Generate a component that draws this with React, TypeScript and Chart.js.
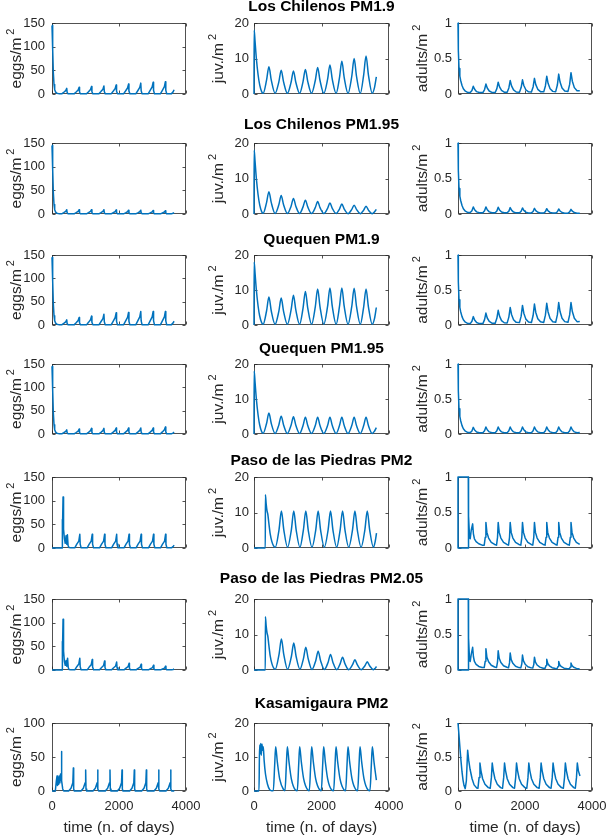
import React, { useEffect, useRef } from 'react';
import { Chart, registerables } from 'chart.js';
Chart.register(...registerables);

type Pt = [number, number];

// ---------- Row 1: Los Chilenos PM1.9 ----------
const lc19Eggs: Pt[] = [[0,145],[20,95],[40,45],[60,20],[80,9],[110,4],[150,1.5],[220,0.3],
[290,0.3],[350,3.6],[410,7.2],[440,12],[452,3.6],[480,0.3],
[660,0.3],[720,4.2],[780,8.4],[810,14],[822,4.2],[850,0.3],
[1030,0.3],[1090,4.8],[1150,9.6],[1180,16],[1192,4.8],[1220,0.3],
[1400,0.3],[1460,5.1],[1520,10.2],[1550,17],[1562,5.1],[1590,0.3],
[1765,0.3],[1825,5.7],[1885,11.4],[1915,19],[1927,5.7],[1955,0.3],
[2135,0.3],[2195,6.3],[2255,12.6],[2285,21],[2297,6.3],[2325,0.3],
[2500,0.3],[2560,6.9],[2620,13.8],[2650,23],[2662,6.9],[2690,0.3],
[2870,0.3],[2930,7.5],[2990,15],[3020,25],[3032,7.5],[3060,0.3],
[3235,0.3],[3295,7.8],[3355,15.6],[3385,26],[3397,7.8],[3425,0.3],
[3560,0.3],[3610,4],[3645,9]];
const lc19Juv: Pt[] = [[0,0],[5,18],[30,15],[70,10],[120,5.5],[170,2.5],[230,0.6],[270,0.2],
[372,3.9],[442,7.7],[512,3.9],[625,0.2],
[736,3.4],[806,6.7],[876,3.4],[989,0.2],
[1099,3.3],[1169,6.5],[1239,3.3],[1352,0.2],
[1453,3.5],[1523,6.9],[1593,3.5],[1706,0.2],
[1816,3.8],[1886,7.5],[1956,3.8],[2069,0.2],
[2180,4.1],[2250,8.2],[2320,4.1],[2433,0.2],
[2533,4.6],[2603,9.2],[2673,4.6],[2786,0.2],
[2897,5],[2967,10],[3037,5],[3150,0.2],
[3250,5.4],[3320,10.7],[3390,5.4],[3503,0.2],
[3570,1.8],[3625,4.8]];
const lc19Adults: Pt[] = [[0,1],[10,0.62],[30,0.36],[55,0.25],[80,0.19],[120,0.12],[160,0.075],[220,0.04],[300,0.02],
[366,0.02],[416,0.05],[456,0.11],[496,0.066],[556,0.033],[636,0.02],
[743,0.02],[793,0.063],[833,0.14],[873,0.084],[933,0.042],[1013,0.022],
[1110,0.022],[1160,0.075],[1200,0.166],[1240,0.1],[1300,0.05],[1380,0.025],
[1468,0.024],[1518,0.085],[1558,0.19],[1598,0.114],[1658,0.057],[1738,0.028],
[1835,0.025],[1885,0.09],[1925,0.2],[1965,0.12],[2025,0.06],[2105,0.03],
[2192,0.027],[2242,0.1],[2282,0.22],[2322,0.132],[2382,0.066],[2462,0.033],
[2559,0.03],[2609,0.113],[2649,0.25],[2689,0.15],[2749,0.075],[2829,0.037],
[2916,0.033],[2966,0.126],[3006,0.28],[3046,0.168],[3106,0.084],[3186,0.042],
[3283,0.036],[3333,0.135],[3373,0.3],[3413,0.18],[3473,0.09],[3553,0.045],
[3635,0.045]];

// ---------- Row 2: Los Chilenos PM1.95 ----------
const lc195Eggs: Pt[] = [[0,145],[20,95],[40,45],[60,20],[80,9],[110,4],[150,1.5],[220,0.3],
[290,0.3],[350,2.7],[410,5.4],[440,9],[452,2.7],[480,0.3],
[660,0.3],[720,2.7],[780,5.4],[810,9],[822,2.7],[850,0.3],
[1030,0.3],[1090,2.7],[1150,5.4],[1180,9],[1192,2.7],[1220,0.3],
[1400,0.3],[1460,2.7],[1520,5.4],[1550,9],[1562,2.7],[1590,0.3],
[1765,0.3],[1825,2.6],[1885,5.1],[1915,8.5],[1927,2.6],[1955,0.3],
[2135,0.3],[2195,2.4],[2255,4.8],[2285,8],[2297,2.4],[2325,0.3],
[2500,0.3],[2560,2.4],[2620,4.8],[2650,8],[2662,2.4],[2690,0.3],
[2870,0.3],[2930,2.3],[2990,4.5],[3020,7.5],[3032,2.3],[3060,0.3],
[3235,0.3],[3295,2.1],[3355,4.2],[3385,7],[3397,2.1],[3425,0.3],
[3560,0.3],[3610,1.5],[3645,2.8]];
const lc195Juv: Pt[] = [[0,0],[5,18],[30,15],[70,10],[120,5.5],[170,2.5],[230,0.6],[270,0.2],
[372,3.2],[442,6.3],[512,3.2],[625,0.15],
[736,2.6],[806,5.2],[876,2.6],[989,0.15],
[1099,2.2],[1169,4.4],[1239,2.2],[1352,0.15],
[1453,2],[1523,3.9],[1593,2],[1706,0.15],
[1816,1.8],[1886,3.5],[1956,1.8],[2069,0.15],
[2180,1.6],[2250,3.1],[2320,1.6],[2433,0.15],
[2533,1.4],[2603,2.8],[2673,1.4],[2786,0.1],
[2897,1.3],[2967,2.5],[3037,1.3],[3150,0.1],
[3250,1.1],[3320,2.2],[3390,1.1],[3503,0.1],
[3570,0.6],[3625,1.3]];
const lc195Adults: Pt[] = [[0,1],[10,0.62],[30,0.36],[55,0.25],[80,0.19],[120,0.12],[160,0.075],[220,0.04],[300,0.02],
[366,0.02],[416,0.045],[456,0.1],[496,0.06],[556,0.03],[636,0.018],
[743,0.018],[793,0.045],[833,0.1],[873,0.06],[933,0.03],[1013,0.018],
[1110,0.018],[1160,0.043],[1200,0.095],[1240,0.057],[1300,0.029],[1380,0.017],
[1468,0.017],[1518,0.04],[1558,0.09],[1598,0.054],[1658,0.027],[1738,0.016],
[1835,0.016],[1885,0.038],[1925,0.085],[1965,0.051],[2025,0.026],[2105,0.015],
[2192,0.015],[2242,0.036],[2282,0.08],[2322,0.048],[2382,0.024],[2462,0.014],
[2559,0.014],[2609,0.034],[2649,0.075],[2689,0.045],[2749,0.023],[2829,0.013],
[2916,0.013],[2966,0.032],[3006,0.07],[3046,0.042],[3106,0.021],[3186,0.012],
[3283,0.012],[3333,0.029],[3373,0.065],[3413,0.039],[3473,0.02],[3553,0.012],
[3635,0.012]];

// ---------- Row 3: Quequen PM1.9 ----------
const q19Eggs: Pt[] = [[0,145],[20,95],[40,45],[60,20],[80,9],[110,4],[150,1.5],[220,0.3],
[290,0.3],[350,3.3],[410,6.6],[440,11],[452,3.3],[480,0.3],
[660,0.3],[720,4.8],[780,9.6],[810,16],[822,4.8],[850,0.3],
[1030,0.3],[1090,5.7],[1150,11.4],[1180,19],[1192,5.7],[1220,0.3],
[1400,0.3],[1460,6.9],[1520,13.8],[1550,23],[1562,6.9],[1590,0.3],
[1765,0.3],[1825,7.8],[1885,15.6],[1915,26],[1927,7.8],[1955,0.3],
[2135,0.3],[2195,8.1],[2255,16.2],[2285,27],[2297,8.1],[2325,0.3],
[2500,0.3],[2560,8.7],[2620,17.4],[2650,29],[2662,8.7],[2690,0.3],
[2870,0.3],[2930,8.7],[2990,17.4],[3020,29],[3032,8.7],[3060,0.3],
[3235,0.3],[3295,8.7],[3355,17.4],[3385,29],[3397,8.7],[3425,0.3],
[3560,0.3],[3610,4],[3645,8]];
const q19Juv: Pt[] = [[0,0],[5,18],[30,15],[70,10],[120,5.5],[170,2.5],[230,0.6],[270,0.2],
[372,4],[442,8],[512,4],[625,0.2],
[736,3.9],[806,7.7],[876,3.9],[989,0.2],
[1099,4.3],[1169,8.5],[1239,4.3],[1352,0.2],
[1453,4.8],[1523,9.6],[1593,4.8],[1706,0.2],
[1816,5.2],[1886,10.3],[1956,5.2],[2069,0.2],
[2180,5.3],[2250,10.6],[2320,5.3],[2433,0.2],
[2533,5.3],[2603,10.6],[2673,5.3],[2786,0.2],
[2897,5.3],[2967,10.5],[3037,5.3],[3150,0.2],
[3250,5.2],[3320,10.3],[3390,5.2],[3503,0.2],
[3570,1.8],[3625,5]];
const q19Adults: Pt[] = [[0,1],[10,0.62],[30,0.36],[55,0.25],[80,0.19],[120,0.12],[160,0.075],[220,0.04],[300,0.02],
[366,0.02],[416,0.054],[456,0.12],[496,0.072],[556,0.036],[636,0.02],
[743,0.02],[793,0.077],[833,0.17],[873,0.1],[933,0.051],[1013,0.026],
[1110,0.025],[1160,0.095],[1200,0.21],[1240,0.126],[1300,0.063],[1380,0.032],
[1468,0.03],[1518,0.113],[1558,0.25],[1598,0.15],[1658,0.075],[1738,0.038],
[1835,0.034],[1885,0.126],[1925,0.28],[1965,0.168],[2025,0.084],[2105,0.042],
[2192,0.036],[2242,0.135],[2282,0.3],[2322,0.18],[2382,0.09],[2462,0.045],
[2559,0.037],[2609,0.14],[2649,0.31],[2689,0.186],[2749,0.093],[2829,0.047],
[2916,0.038],[2966,0.144],[3006,0.32],[3046,0.192],[3106,0.096],[3186,0.048],
[3283,0.038],[3333,0.144],[3373,0.32],[3413,0.192],[3473,0.096],[3553,0.048],
[3635,0.05]];

// ---------- Row 4: Quequen PM1.95 ----------
const q195Eggs: Pt[] = [[0,145],[20,95],[40,45],[60,20],[80,9],[110,4],[150,1.5],[220,0.3],
[290,0.3],[350,2.7],[410,5.4],[440,9],[452,2.7],[480,0.3],
[660,0.3],[720,3.2],[780,6.3],[810,10.5],[822,3.2],[850,0.3],
[1030,0.3],[1090,3.6],[1150,7.2],[1180,12],[1192,3.6],[1220,0.3],
[1400,0.3],[1460,3.6],[1520,7.2],[1550,12],[1562,3.6],[1590,0.3],
[1765,0.3],[1825,3.9],[1885,7.8],[1915,13],[1927,3.9],[1955,0.3],
[2135,0.3],[2195,3.9],[2255,7.8],[2285,13],[2297,3.9],[2325,0.3],
[2500,0.3],[2560,3.9],[2620,7.8],[2650,13],[2662,3.9],[2690,0.3],
[2870,0.3],[2930,3.9],[2990,7.8],[3020,13],[3032,3.9],[3060,0.3],
[3235,0.3],[3295,4.5],[3355,9],[3385,15],[3397,4.5],[3425,0.3],
[3560,0.3],[3610,2],[3645,4]];
const q195Juv: Pt[] = [[0,0],[5,18],[30,15],[70,10],[120,5.5],[170,2.5],[230,0.6],[270,0.2],
[372,3],[442,6],[512,3],[625,0.15],
[736,2.6],[806,5.1],[876,2.6],[989,0.15],
[1099,2.5],[1169,4.9],[1239,2.5],[1352,0.15],
[1453,2.4],[1523,4.8],[1593,2.4],[1706,0.15],
[1816,2.4],[1886,4.8],[1956,2.4],[2069,0.15],
[2180,2.4],[2250,4.8],[2320,2.4],[2433,0.15],
[2533,2.4],[2603,4.8],[2673,2.4],[2786,0.15],
[2897,2.4],[2967,4.8],[3037,2.4],[3150,0.15],
[3250,2.4],[3320,4.8],[3390,2.4],[3503,0.15],
[3570,0.8],[3625,1.8]];
const q195Adults: Pt[] = [[0,1],[10,0.62],[30,0.36],[55,0.25],[80,0.19],[120,0.12],[160,0.075],[220,0.04],[300,0.02],
[366,0.02],[416,0.043],[456,0.095],[496,0.057],[556,0.029],[636,0.017],
[743,0.017],[793,0.045],[833,0.1],[873,0.06],[933,0.03],[1013,0.018],
[1110,0.018],[1160,0.045],[1200,0.1],[1240,0.06],[1300,0.03],[1380,0.018],
[1468,0.018],[1518,0.045],[1558,0.1],[1598,0.06],[1658,0.03],[1738,0.018],
[1835,0.018],[1885,0.045],[1925,0.1],[1965,0.06],[2025,0.03],[2105,0.018],
[2192,0.018],[2242,0.045],[2282,0.1],[2322,0.06],[2382,0.03],[2462,0.018],
[2559,0.018],[2609,0.045],[2649,0.1],[2689,0.06],[2749,0.03],[2829,0.018],
[2916,0.018],[2966,0.045],[3006,0.1],[3046,0.06],[3106,0.03],[3186,0.018],
[3283,0.018],[3333,0.045],[3373,0.1],[3413,0.06],[3473,0.03],[3553,0.018],
[3635,0.02]];

// ---------- Row 5: Paso de las Piedras PM2 ----------
const pd2Eggs: Pt[] = [[0,0],[300,0],[305,60],[315,30],[330,108],[345,40],[370,20],[395,10],[420,26],[440,8],[460,28],[480,5],[510,1],[560,0.3],
[680,0.3],[740,8],[800,14.5],[830,29],[842,8],[870,0.3],
[1050,0.3],[1110,8],[1170,14.5],[1200,29],[1212,8],[1240,0.3],
[1420,0.3],[1480,8],[1540,14.5],[1570,29],[1582,8],[1610,0.3],
[1780,0.3],[1840,8],[1900,14.5],[1930,29],[1942,8],[1970,0.3],
[2150,0.3],[2210,8],[2270,14.5],[2300,29],[2312,8],[2340,0.3],
[2510,0.3],[2570,8],[2630,14.5],[2660,29],[2672,8],[2700,0.3],
[2880,0.3],[2940,8],[3000,14.5],[3030,29],[3042,8],[3070,0.3],
[3240,0.3],[3300,8],[3360,14.5],[3390,29],[3402,8],[3430,0.3],
[3565,0.3],[3615,3],[3645,6]];
const pd2Juv: Pt[] = [[0,0],[335,0],[338,15],[360,12.5],[385,10.5],[410,9.5],[440,7],[480,4],[530,1.8],[580,0.6],[630,0.2],
[742,5.2],[812,10.4],[882,5.2],[995,0.2],
[1108,5.2],[1178,10.4],[1248,5.2],[1361,0.2],
[1465,5.2],[1535,10.4],[1605,5.2],[1718,0.2],
[1831,5.2],[1901,10.4],[1971,5.2],[2084,0.2],
[2197,5.2],[2267,10.4],[2337,5.2],[2450,0.2],
[2554,5.2],[2624,10.4],[2694,5.2],[2807,0.2],
[2920,5.2],[2990,10.4],[3060,5.2],[3173,0.2],
[3286,5.2],[3356,10.4],[3426,5.2],[3539,0.2],
[3590,1.8],[3630,4.2]];
const pd2Adults: Pt[] = [[307,0],[0,0],[0,1],[307,1],[307,0],[312,1],[325,0.45],[345,0.15],[365,0.13],[395,0.25],[437,0.34],[460,0.2],[490,0.13],[540,0.09],[620,0.06],[720,0.04],
[783,0.04],[813,0.15],[833,0.36],[863,0.22],[913,0.14],[993,0.08],[1093,0.05],
[1150,0.04],[1180,0.15],[1200,0.36],[1230,0.22],[1280,0.14],[1360,0.08],[1460,0.05],
[1508,0.04],[1538,0.15],[1558,0.36],[1588,0.22],[1638,0.14],[1718,0.08],[1818,0.05],
[1875,0.04],[1905,0.15],[1925,0.36],[1955,0.22],[2005,0.14],[2085,0.08],[2185,0.05],
[2232,0.04],[2262,0.15],[2282,0.36],[2312,0.22],[2362,0.14],[2442,0.08],[2542,0.05],
[2599,0.04],[2629,0.15],[2649,0.36],[2679,0.22],[2729,0.14],[2809,0.08],[2909,0.05],
[2956,0.04],[2986,0.15],[3006,0.36],[3036,0.22],[3086,0.14],[3166,0.08],[3266,0.05],
[3323,0.04],[3353,0.15],[3373,0.36],[3403,0.22],[3453,0.14],[3533,0.08],[3633,0.05]];

// ---------- Row 6: Paso de las Piedras PM2.05 ----------
const pd205Eggs: Pt[] = [[0,0],[300,0],[305,60],[315,30],[330,107],[345,40],[370,18],[395,10],[420,20],[440,8],[465,25],[485,5],[510,1],[560,0.3],
[680,0.3],[740,7],[800,12.5],[830,25],[842,7],[870,0.3],
[1050,0.3],[1110,6.2],[1170,11],[1200,22],[1212,6.2],[1240,0.3],
[1420,0.3],[1480,5.3],[1540,9.5],[1570,19],[1582,5.3],[1610,0.3],
[1780,0.3],[1840,4.8],[1900,8.5],[1930,17],[1942,4.8],[1970,0.3],
[2150,0.3],[2210,3.9],[2270,7],[2300,14],[2312,3.9],[2340,0.3],
[2510,0.3],[2570,3.4],[2630,6],[2660,12],[2672,3.4],[2700,0.3],
[2880,0.3],[2940,2.8],[3000,5],[3030,10],[3042,2.8],[3070,0.3],
[3240,0.3],[3300,2.2],[3360,4],[3390,8],[3402,2.2],[3430,0.3],
[3565,0.3],[3615,1.2],[3645,2]];
const pd205Juv: Pt[] = [[0,0],[335,0],[338,15],[360,12.5],[385,10.5],[410,9.5],[440,7],[480,4],[530,1.8],[580,0.6],[630,0.2],
[742,4.4],[812,8.7],[882,4.4],[995,0.2],
[1108,3.8],[1178,7.6],[1248,3.8],[1361,0.2],
[1465,3.2],[1535,6.4],[1605,3.2],[1718,0.15],
[1831,2.7],[1901,5.3],[1971,2.7],[2084,0.15],
[2197,2.2],[2267,4.4],[2337,2.2],[2450,0.1],
[2554,1.8],[2624,3.6],[2694,1.8],[2807,0.1],
[2920,1.5],[2990,2.9],[3060,1.5],[3173,0.1],
[3286,1.2],[3356,2.3],[3426,1.2],[3539,0.1],
[3590,0.5],[3630,1]];
const pd205Adults: Pt[] = [[307,0],[0,0],[0,1],[307,1],[307,0],[312,1],[325,0.45],[345,0.14],[365,0.12],[395,0.22],[437,0.32],[460,0.19],[490,0.12],[540,0.08],[620,0.05],[720,0.035],
[783,0.035],[813,0.125],[833,0.3],[863,0.18],[913,0.117],[993,0.067],[1093,0.042],
[1150,0.035],[1180,0.113],[1200,0.27],[1230,0.165],[1280,0.105],[1360,0.06],[1460,0.038],
[1508,0.032],[1538,0.1],[1558,0.24],[1588,0.146],[1638,0.094],[1718,0.053],[1818,0.034],
[1875,0.03],[1905,0.088],[1925,0.21],[1955,0.128],[2005,0.082],[2085,0.046],[2185,0.03],
[2232,0.027],[2262,0.076],[2282,0.18],[2312,0.11],[2362,0.07],[2442,0.04],[2542,0.025],
[2599,0.023],[2629,0.063],[2649,0.15],[2679,0.092],[2729,0.059],[2809,0.033],[2909,0.021],
[2956,0.019],[2986,0.05],[3006,0.12],[3036,0.073],[3086,0.047],[3166,0.026],[3266,0.017],
[3323,0.016],[3353,0.042],[3373,0.1],[3403,0.061],[3453,0.039],[3533,0.022],[3633,0.015]];

// ---------- Row 7: Kasamigaura PM2 ----------
const kEggs: Pt[] = [[0,0],[100,0],[130,15],[150,22],[165,8],[185,20],[200,10],[215,22],[235,12],[255,25],[270,20],[280,58],[295,15],[320,3],[350,0],
[497,0],[567,4],[622,12],[637,34],[647,3],[667,0],
[865,0],[935,4],[990,12],[1005,31],[1015,3],[1035,0],
[1223,0],[1293,4],[1348,12],[1363,31],[1373,3],[1393,0],
[1591,0],[1661,4],[1716,12],[1731,31],[1741,3],[1761,0],
[1950,0],[2020,4],[2075,12],[2090,31],[2100,3],[2120,0],
[2317,0],[2387,4],[2442,12],[2457,31],[2467,3],[2487,0],
[2676,0],[2746,4],[2801,12],[2816,31],[2826,3],[2846,0],
[3044,0],[3114,4],[3169,12],[3184,31],[3194,3],[3214,0],
[3402,0],[3472,4],[3527,12],[3542,31],[3552,3],[3572,0],
[3650,0]];
const kJuv: Pt[] = [[0,0],[148,0],[160,10],[170,13.5],[185,11],[200,14],[215,10.5],[235,13.8],[255,12],[275,13],[300,9],[340,5],[400,2],[460,0.5],[520,0.1],
[572,0.1],[612,7.5],[642,13],[692,8.5],[762,3.5],[882,0.3],
[918,0.1],[958,7.5],[988,13],[1038,8.5],[1108,3.5],[1228,0.3],
[1283,0.1],[1323,7.5],[1353,13],[1403,8.5],[1473,3.5],[1593,0.3],
[1639,0.1],[1679,7.5],[1709,13],[1759,8.5],[1829,3.5],[1949,0.3],
[1994,0.1],[2034,7.5],[2064,13],[2114,8.5],[2184,3.5],[2304,0.3],
[2360,0.1],[2400,7.5],[2430,13],[2480,8.5],[2550,3.5],[2670,0.3],
[2715,0.1],[2755,7.5],[2785,13],[2835,8.5],[2905,3.5],[3025,0.3],
[3071,0.1],[3111,7.5],[3141,13],[3191,8.5],[3261,3.5],[3381,0.3],
[3436,0.1],[3476,7.5],[3506,13],[3556,8.5],[3626,3.2]];
const kAdults: Pt[] = [[0,1],[30,0.82],[60,0.62],[90,0.44],[120,0.28],[150,0.16],[180,0.08],[215,0.035],[250,0.15],[288,0.6],[320,0.45],[360,0.32],[420,0.18],[480,0.09],[560,0.045],
[595,0.04],[630,0.2],[655,0.41],[685,0.3],[735,0.18],[805,0.1],[905,0.05],
[962,0.04],[997,0.2],[1022,0.41],[1052,0.3],[1102,0.18],[1172,0.1],[1272,0.05],
[1329,0.04],[1364,0.2],[1389,0.41],[1419,0.3],[1469,0.18],[1539,0.1],[1639,0.05],
[1687,0.04],[1722,0.2],[1747,0.41],[1777,0.3],[1827,0.18],[1897,0.1],[1997,0.05],
[2054,0.04],[2089,0.2],[2114,0.41],[2144,0.3],[2194,0.18],[2264,0.1],[2364,0.05],
[2421,0.04],[2456,0.2],[2481,0.41],[2511,0.3],[2561,0.18],[2631,0.1],[2731,0.05],
[2778,0.04],[2813,0.2],[2838,0.41],[2868,0.3],[2918,0.18],[2988,0.1],[3088,0.05],
[3145,0.04],[3180,0.2],[3205,0.41],[3235,0.3],[3285,0.18],[3355,0.1],[3455,0.05],
[3502,0.04],[3537,0.2],[3562,0.41],[3592,0.3],[3641,0.22]];

// ---------- labels & ticks ----------
const rowTitles = ['Los Chilenos PM1.9', 'Los Chilenos PM1.95', 'Quequen PM1.9', 'Quequen PM1.95',
  'Paso de las Piedras PM2', 'Paso de las Piedras PM2.05', 'Kasamigaura PM2'];
const yLabels = ['eggs/m', 'juv./m', 'adults/m'];
const ySup = '2';
const xTitle = 'time (n. of days)';
const xTickValues = [0, 2000, 4000];
const eggTicks = [0, 50, 100, 150];
const eggTicksKasamigaura = [0, 50, 100];
const juvTicks = [0, 10, 20];
const adultTicks = [0, 0.5, 1];

const panels: Pt[][][] = [
  [lc19Eggs, lc19Juv, lc19Adults],
  [lc195Eggs, lc195Juv, lc195Adults],
  [q19Eggs, q19Juv, q19Adults],
  [q195Eggs, q195Juv, q195Adults],
  [pd2Eggs, pd2Juv, pd2Adults],
  [pd205Eggs, pd205Juv, pd205Adults],
  [kEggs, kJuv, kAdults],
];

// ---------- layout ----------
const colLeft = [52, 254, 458];
const colRight = [186, 389, 592];
const rowTop = [23, 143, 255, 364, 477, 599, 723];
const rowBottom = [94, 214, 325, 434, 548, 670, 791];
const titleBaseline = [11, 129, 244, 353, 465, 583, 708];

const BLUE = '#0072BD';
const INK = '#262626';
const FONT = '"Liberation Sans", Arial, Helvetica, sans-serif';
const Y_AXIS_W = 50;
const PAD_TOP = 22;
const PAD_RIGHT = 30;
const PAD_BOTTOM = 22;
const X_AXIS_H = 46;
const tickPad = [7, 5, 6];

function Panel({ row, col }: { row: number; col: number }) {
  const ref = useRef<HTMLCanvasElement>(null);
  const last = row === panels.length - 1;
  const boxW = colRight[col] - colLeft[col];
  const boxH = rowBottom[row] - rowTop[row];
  const width = Y_AXIS_W + boxW + PAD_RIGHT;
  const height = PAD_TOP + boxH + (last ? X_AXIS_H : PAD_BOTTOM);
  const left = colLeft[col] - Y_AXIS_W;
  const top = rowTop[row] - PAD_TOP;

  useEffect(() => {
    const yTicks = col === 0 ? (last ? eggTicksKasamigaura : eggTicks) : col === 1 ? juvTicks : adultTicks;
    const pts = panels[row][col];
    const label = yLabels[col];
    const frame = {
      id: 'frame',
      beforeDatasetsDraw(chart: any) {
        const { ctx, chartArea: a, scales } = chart;
        const L = Math.round(a.left) + 0.5;
        const R = Math.round(a.right) - 0.5;
        const T = Math.round(a.top) + 0.5;
        const B = Math.round(a.bottom) - 0.5;
        ctx.save();
        ctx.strokeStyle = INK;
        ctx.globalAlpha = 0.8;
        ctx.lineWidth = 1;
        ctx.strokeRect(L, T, R - L, B - T);
        const tl = 3;
        ctx.beginPath();
        for (const v of yTicks) {
          const y = Math.round(scales.y.getPixelForValue(v)) + 0.5;
          ctx.moveTo(L, y); ctx.lineTo(L + tl, y);
          ctx.moveTo(R, y); ctx.lineTo(R - tl, y);
        }
        for (const v of xTickValues) {
          const x = Math.round(scales.x.getPixelForValue(v)) + 0.5;
          ctx.moveTo(x, B); ctx.lineTo(x, B - tl);
          ctx.moveTo(x, T); ctx.lineTo(x, T + tl);
        }
        ctx.stroke();
        ctx.restore();
      },
      afterDraw(chart: any) {
        const { ctx, chartArea: a } = chart;
        ctx.save();
        ctx.fillStyle = INK;
        ctx.translate(a.left - 31, (a.top + a.bottom) / 2);
        ctx.rotate(-Math.PI / 2);
        ctx.textBaseline = 'alphabetic';
        ctx.textAlign = 'left';
        ctx.font = `15.5px ${FONT}`;
        const w1 = ctx.measureText(label).width;
        ctx.font = `11px ${FONT}`;
        const w2 = ctx.measureText(ySup).width;
        const gap = 3;
        const total = w1 + gap + w2;
        ctx.font = `15.5px ${FONT}`;
        ctx.fillText(label, -total / 2, 0);
        ctx.font = `11px ${FONT}`;
        ctx.fillText(ySup, -total / 2 + w1 + gap, -7);
        ctx.restore();
      },
    };
    const chart = new Chart(ref.current as HTMLCanvasElement, {
      type: 'line',
      data: {
        datasets: [{
          data: pts.map(([x, y]) => ({ x, y })),
          borderColor: BLUE,
          borderWidth: 1.5,
          pointRadius: 0,
          fill: false,
          tension: 0,
          cubicInterpolationMode: col === 1 ? 'monotone' : 'default',
          borderJoinStyle: 'round',
          clip: 3,
        }],
      },
      options: {
        animation: false,
        responsive: false,
        events: [],
        layout: { padding: { top: PAD_TOP, right: PAD_RIGHT, bottom: last ? 0 : PAD_BOTTOM, left: 0 } },
        plugins: { legend: { display: false }, tooltip: { enabled: false } },
        scales: {
          x: {
            type: 'linear', min: 0, max: 4000,
            grid: { display: false, drawTicks: false },
            border: { display: false },
            ticks: { display: last, padding: 8, maxRotation: 0, font: { family: FONT, size: 13 }, color: INK, callback: (v: any) => String(v) },
            afterBuildTicks: (s: any) => { s.ticks = xTickValues.map((v) => ({ value: v })); },
            title: { display: last, text: xTitle, color: INK, font: { family: FONT, size: 15.5 }, padding: { top: 0, bottom: 0 } },
            afterFit: (s: any) => { s.height = last ? X_AXIS_H : 0; },
          },
          y: {
            type: 'linear', min: 0, max: yTicks[yTicks.length - 1],
            grid: { display: false, drawTicks: false },
            border: { display: false },
            ticks: { padding: tickPad[col], font: { family: FONT, size: 13 }, color: INK, callback: (v: any) => String(v) },
            afterBuildTicks: (s: any) => { s.ticks = yTicks.map((v) => ({ value: v })); },
            afterFit: (s: any) => { s.width = Y_AXIS_W; },
          },
        },
      },
      plugins: [frame],
    } as any);
    return () => chart.destroy();
  }, [row, col]);

  return (
    <canvas
      ref={ref}
      width={width}
      height={height}
      style={{ position: 'absolute', left, top, width, height }}
    />
  );
}

export default function App() {
  const titleCenter = (colLeft[1] + colRight[1]) / 2;
  return (
    <div style={{ position: 'absolute', left: 0, top: 0, width: 607, height: 837, overflow: 'hidden', background: '#fff' }}>
      {panels.map((rowSeries, r) => rowSeries.map((_, c) => <Panel key={`${r}-${c}`} row={r} col={c} />))}
      {rowTitles.map((t, r) => (
        <div
          key={t}
          style={{
            position: 'absolute', left: titleCenter - 200, width: 400, top: titleBaseline[r] - 14.4,
            textAlign: 'center', fontFamily: FONT, fontWeight: 'bold', fontSize: 15.5, lineHeight: '18px',
            color: '#000', whiteSpace: 'nowrap',
          }}
        >
          {t}
        </div>
      ))}
    </div>
  );
}
